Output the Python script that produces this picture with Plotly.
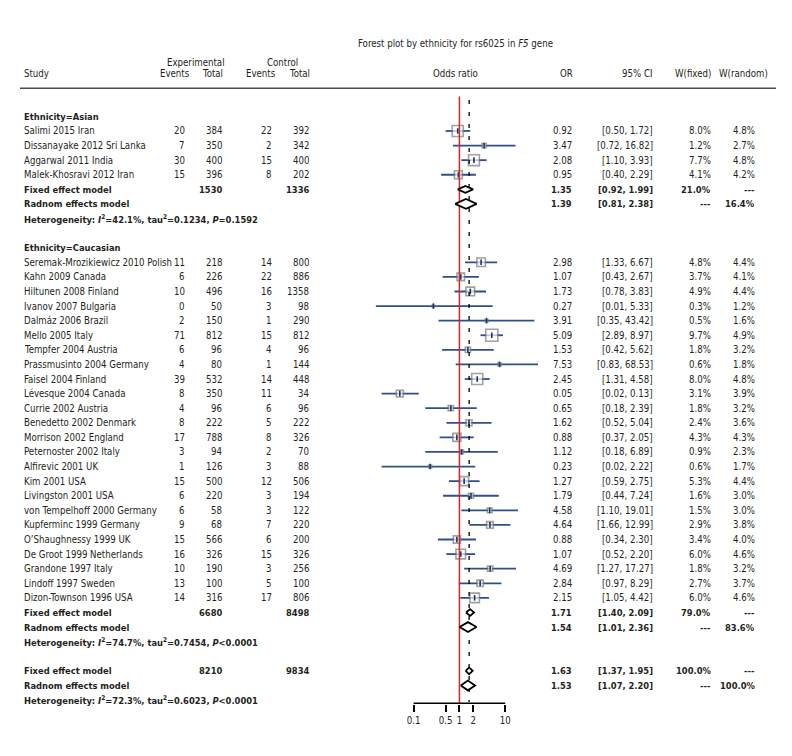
import math
import plotly.graph_objects as go

# ---------------- data ----------------
asian_studies = ["Salimi 2015 Iran", "Dissanayake 2012 Sri Lanka", "Aggarwal 2011 India", "Malek-Khosravi 2012 Iran"]
asian_exp_events = [20, 7, 30, 15]
asian_exp_total = [384, 350, 400, 396]
asian_ctrl_events = [22, 2, 15, 8]
asian_ctrl_total = [392, 342, 400, 202]
asian_or = [0.92, 3.47, 2.08, 0.95]
asian_lo = [0.50, 0.72, 1.10, 0.40]
asian_hi = [1.72, 16.82, 3.93, 2.29]
asian_wf = [8.0, 1.2, 7.7, 4.1]
asian_wr = [4.8, 2.7, 4.8, 4.2]

cauc_studies = ["Seremak-Mrozikiewicz 2010 Polish", "Kahn 2009 Canada", "Hiltunen 2008 Finland",
                "Ivanov 2007 Bulgaria", "Dalmáz 2006 Brazil", "Mello 2005 Italy", "Tempfer 2004 Austria",
                "Prassmusinto 2004 Germany", "Faisel 2004 Finland", "Lévesque 2004 Canada",
                "Currie 2002 Austria", "Benedetto 2002 Denmark", "Morrison 2002 England",
                "Peternoster 2002 Italy", "Alfirevic 2001 UK", "Kim 2001 USA", "Livingston 2001 USA",
                "von Tempelhoff 2000 Germany", "Kupferminc 1999 Germany", "O’Shaughnessy 1999 UK",
                "De Groot 1999 Netherlands", "Grandone 1997 Italy", "Lindoff 1997 Sweden",
                "Dizon-Townson 1996 USA"]
cauc_exp_events = [11, 6, 10, 0, 2, 71, 6, 4, 39, 8, 4, 8, 17, 3, 1, 15, 6, 6, 9, 15, 16, 10, 13, 14]
cauc_exp_total = [218, 226, 496, 50, 150, 812, 96, 80, 532, 350, 96, 222, 788, 94, 126, 500, 220, 58, 68, 566, 326, 190, 100, 316]
cauc_ctrl_events = [14, 22, 16, 3, 1, 15, 4, 1, 14, 11, 6, 5, 8, 2, 3, 12, 3, 3, 7, 6, 15, 3, 5, 17]
cauc_ctrl_total = [800, 886, 1358, 98, 290, 812, 96, 144, 448, 34, 96, 222, 326, 70, 88, 506, 194, 122, 220, 200, 326, 256, 100, 806]
cauc_or = [2.98, 1.07, 1.73, 0.27, 3.91, 5.09, 1.53, 7.53, 2.45, 0.05, 0.65, 1.62, 0.88, 1.12, 0.23, 1.27, 1.79, 4.58, 4.64, 0.88, 1.07, 4.69, 2.84, 2.15]
cauc_lo = [1.33, 0.43, 0.78, 0.01, 0.35, 2.89, 0.42, 0.83, 1.31, 0.02, 0.18, 0.52, 0.37, 0.18, 0.02, 0.59, 0.44, 1.10, 1.66, 0.34, 0.52, 1.27, 0.97, 1.05]
cauc_hi = [6.67, 2.67, 3.83, 5.33, 43.42, 8.97, 5.62, 68.53, 4.58, 0.13, 2.39, 5.04, 2.05, 6.89, 2.22, 2.75, 7.24, 19.01, 12.99, 2.30, 2.20, 17.27, 8.29, 4.42]
cauc_wf = [4.8, 3.7, 4.9, 0.3, 0.5, 9.7, 1.8, 0.6, 8.0, 3.1, 1.8, 2.4, 4.3, 0.9, 0.6, 5.3, 1.6, 1.5, 2.9, 3.4, 6.0, 1.8, 2.7, 6.0]
cauc_wr = [4.4, 4.1, 4.4, 1.2, 1.6, 4.9, 3.2, 1.8, 4.8, 3.9, 3.2, 3.6, 4.3, 2.3, 1.7, 4.4, 3.0, 3.0, 3.8, 4.0, 4.6, 3.2, 3.7, 4.6]

group_names = ["Ethnicity=Asian", "Ethnicity=Caucasian"]
group_exp_total = [1530, 6680]
group_ctrl_total = [1336, 8498]
group_fixed = [(1.35, 0.92, 1.99, 21.0), (1.71, 1.40, 2.09, 79.0)]
group_random = [(1.39, 0.81, 2.38, 16.4), (1.54, 1.01, 2.36, 83.6)]
group_het = [("42.1%", "0.1234", "=0.1592"), ("74.7%", "0.7454", "<0.0001")]

overall_exp_total = 8210
overall_ctrl_total = 9834
overall_fixed = (1.63, 1.37, 1.95, 100.0)
overall_random = (1.53, 1.07, 2.20, 100.0)
overall_het = ("72.3%", "0.6023", "<0.0001")

tick_vals = [0.1, 0.5, 1, 2, 10]
tick_text = ["0.1", "0.5", "1", "2", "10"]

# ---------------- geometry (reference pixels) ----------------
OFF = 8                      # page body margin
W_FIG, H_FIG = 792 - OFF, 756 - 2 * OFF
ROW0_PX = 116.4
ROW_H = 14.59
X1_PX = 459.4
DEC_PX = 45.8
AXIS_PX = 704.0
FONT = "DejaVu Sans Condensed, Liberation Sans Narrow, sans-serif"
FS = 9.6
FS_B = 9.3
TXT = "#231f20"
CI_COL = "#2f4f8c"
SQ_COL = "#7a7a7a"
RED = "#d42a2a"
CLIP_LO, CLIP_HI = 0.015, 52.0


def prow(py):
    return (py - ROW0_PX) / ROW_H


def fx(px):
    return (px - OFF) / W_FIG


def fy(py):
    return 1 - (py - OFF) / H_FIG


# ---------------- rows ----------------
groups = [
    dict(studies=asian_studies, ee=asian_exp_events, et=asian_exp_total, ce=asian_ctrl_events,
         ct=asian_ctrl_total, orv=asian_or, lo=asian_lo, hi=asian_hi, wf=asian_wf, wr=asian_wr),
    dict(studies=cauc_studies, ee=cauc_exp_events, et=cauc_exp_total, ce=cauc_ctrl_events,
         ct=cauc_ctrl_total, orv=cauc_or, lo=cauc_lo, hi=cauc_hi, wf=cauc_wf, wr=cauc_wr),
]

annotations = []
COLS = dict(study=23, ee=186, et=222.5, ce=273, ct=310, orv=572.5, ci=654, wf=712, wr=755.5)


def add_text(col, row, text, bold=False, anchor="right"):
    t = "<b>%s</b>" % text if bold else text
    annotations.append(dict(x=fx(COLS[col]), xref="paper", y=row, yref="y", text=t, showarrow=False,
                            xanchor=anchor, yanchor="middle", borderpad=0,
                            font=dict(family=FONT, size=FS_B if bold else FS, color=TXT)))


study_rows, study_or, study_lo, study_hi, study_w = [], [], [], [], []
diamonds = []  # (row, est, lo, hi, halfheight_px)


def summary_rows(r, label_f, label_r, fixed, random, et, ct, het):
    add_text("study", r, label_f, True, "left")
    add_text("et", r, str(et), True)
    add_text("ct", r, str(ct), True)
    add_text("orv", r, "%.2f" % fixed[0], True)
    add_text("ci", r, "[%.2f, %.2f]" % (fixed[1], fixed[2]), True)
    add_text("wf", r, "%.1f%%" % fixed[3], True)
    add_text("wr", r, "---", True)
    diamonds.append((r, fixed[0], fixed[1], fixed[2], 3.4))
    r += 1
    add_text("study", r, label_r, True, "left")
    add_text("orv", r, "%.2f" % random[0], True)
    add_text("ci", r, "[%.2f, %.2f]" % (random[1], random[2]), True)
    add_text("wf", r, "---", True)
    add_text("wr", r, "%.1f%%" % random[3], True)
    diamonds.append((r, random[0], random[1], random[2], 4.9))
    r += 1
    add_text("study", r, "Heterogeneity: <i>I</i><sup>2</sup>=%s, tau<sup>2</sup>=%s, <i>P</i>%s" % het,
             True, "left")
    return r + 1


r = 0
for gi, g in enumerate(groups):
    add_text("study", r, group_names[gi], True, "left")
    r += 1
    for i, name in enumerate(g["studies"]):
        add_text("study", r, name, False, "left")
        add_text("ee", r, str(g["ee"][i]))
        add_text("et", r, str(g["et"][i]))
        add_text("ce", r, str(g["ce"][i]))
        add_text("ct", r, str(g["ct"][i]))
        add_text("orv", r, "%.2f" % g["orv"][i])
        add_text("ci", r, "[%.2f, %.2f]" % (g["lo"][i], g["hi"][i]))
        add_text("wf", r, "%.1f%%" % g["wf"][i])
        add_text("wr", r, "%.1f%%" % g["wr"][i])
        study_rows.append(r)
        study_or.append(g["orv"][i])
        study_lo.append(g["lo"][i])
        study_hi.append(g["hi"][i])
        study_w.append(g["wf"][i])
        r += 1
    r = summary_rows(r, "Fixed effect model", "Radnom effects model", group_fixed[gi], group_random[gi],
                     group_exp_total[gi], group_ctrl_total[gi], group_het[gi])
    r += 1  # blank line
r = summary_rows(r, "Fixed effect model", "Radnom effects model", overall_fixed, overall_random,
                 overall_exp_total, overall_ctrl_total, overall_het)


# ---------------- headers ----------------
def hdr(x, ypx, text, anchor):
    annotations.append(dict(x=fx(x), xref="paper", y=fy(ypx), yref="paper", text=text, showarrow=False,
                            xanchor=anchor, yanchor="middle", borderpad=0,
                            font=dict(family=FONT, size=FS, color=TXT)))


hdr(455, 43.5, "Forest plot by ethnicity for rs6025 in <i>F5</i> gene", "center")
hdr(196, 62, "Experimental", "center")
hdr(282, 62, "Control", "center")
hdr(23, 73, "Study", "left")
hdr(191, 73, "Events", "right")
hdr(224, 73, "Total", "right")
hdr(277, 73, "Events", "right")
hdr(311, 73, "Total", "right")
hdr(455, 73, "Odds ratio", "center")
hdr(566.5, 73, "OR", "center")
hdr(654, 73, "95% CI", "right")
hdr(712, 73, "W(fixed)", "right")
hdr(769, 73, "W(random)", "right")

# ---------------- traces ----------------
fig = go.Figure()
base_row = prow(AXIS_PX - 0.75)

# CI lines
cx, cy = [], []
for rr, lo, hi in zip(study_rows, study_lo, study_hi):
    cx += [max(lo, CLIP_LO), min(hi, CLIP_HI), None]
    cy += [rr, rr, None]
fig.add_trace(go.Scatter(x=cx, y=cy, mode="lines", line=dict(color=CI_COL, width=1.8), hoverinfo="skip"))

# squares
fig.add_trace(go.Scatter(x=study_or, y=study_rows, mode="markers", hoverinfo="skip",
                         marker=dict(symbol="square", size=[3.9 * math.sqrt(w) for w in study_w],
                                     color="white", line=dict(color=SQ_COL, width=1.6))))
fig.add_trace(go.Scatter(x=study_or, y=study_rows, mode="markers", hoverinfo="skip",
                         marker=dict(symbol="line-ns", size=4, color=CI_COL,
                                     line=dict(color="#1e3160", width=1.6))))

# dashed overall-fixed line
fig.add_trace(go.Scatter(x=[overall_fixed[0], overall_fixed[0]], y=[prow(100), prow(AXIS_PX - 2)],
                         mode="lines", line=dict(color="black", width=1.3, dash="4px,8px"), hoverinfo="skip"))

# red reference line
fig.add_trace(go.Scatter(x=[1, 1], y=[prow(96.5), base_row], mode="lines",
                         line=dict(color=RED, width=1.5), hoverinfo="skip"))

# diamonds
for (rr, est, lo, hi, hh) in diamonds:
    h = hh / ROW_H
    fig.add_trace(go.Scatter(x=[lo, est, hi, est, lo], y=[rr, rr - h, rr, rr + h, rr], mode="lines",
                             fill="toself", fillcolor="white", line=dict(color="black", width=1.8),
                             hoverinfo="skip"))

# axis baseline
fig.add_trace(go.Scatter(x=[tick_vals[0], tick_vals[-1]], y=[base_row, base_row], mode="lines",
                         line=dict(color="black", width=1.5), hoverinfo="skip"))

# header rule
shapes = [dict(type="line", xref="paper", yref="paper", x0=fx(20), x1=fx(776), y0=fy(88.3), y1=fy(88.3),
               line=dict(color="#4a4a4a", width=1.5))]

fig.update_layout(
    width=W_FIG, height=H_FIG, autosize=False, showlegend=False,
    margin=dict(l=0, r=0, t=0, b=0),
    paper_bgcolor="white", plot_bgcolor="white",
    annotations=annotations, shapes=shapes,
    xaxis=dict(type="log", range=[(OFF - X1_PX) / DEC_PX, (792 - X1_PX) / DEC_PX], domain=[0, 1],
               showgrid=False, zeroline=False, showline=False,
               tickvals=tick_vals, ticktext=tick_text, ticks="outside", ticklen=7, tickwidth=1.5,
               tickcolor="black", tickfont=dict(family=FONT, size=FS, color=TXT)),
    yaxis=dict(range=[prow(AXIS_PX), prow(OFF)], domain=[1 - (AXIS_PX - OFF) / H_FIG, 1], visible=False),
)

fig.write_html("out.html")
